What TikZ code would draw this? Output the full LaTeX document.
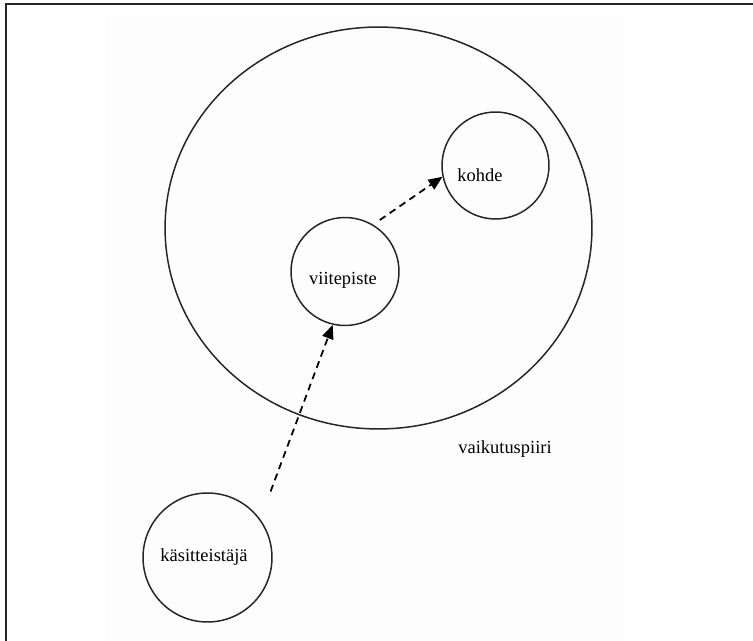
\documentclass[tikz,border=0pt]{standalone}
\usepackage{fontspec}
\setmainfont{Liberation Serif}
\usepackage{tikz}
\usetikzlibrary{arrows.meta,shapes,calc}
\tikzstyle{cnode}=[circle, draw=black!85, line width=0.85pt, inner sep=0pt]
\tikzstyle{area}=[ellipse, draw=black!85, line width=0.85pt, inner sep=0pt,
minimum width=8.54cm, minimum height=8.04cm]
\tikzstyle{dref}=[-{Triangle[length=2.8mm,width=2.3mm]}, line width=1pt,
dash pattern=on 1.4mm off 1mm]
\tikzstyle{frame}=[line width=0.045cm, draw=black!85]

\begin{document}
\begin{tikzpicture}[x=0.02cm, y=-0.02cm, font=\fontsize{10.5}{12}\selectfont]
\useasboundingbox (0,0) rectangle (753,641);
\fill[black!0.8] (106,16) rectangle (625,641);
\draw[frame] (5,4) -- (753,4);
\draw[frame] (6,3) -- (6,641);
\node[area] (piiri) at (378.5,228) {};
\node[cnode, minimum size=2.14cm,
label={[xshift=-0.31cm, yshift=-0.19cm]center:kohde}] (k) at (495.5,165.5) {};
\node[cnode, minimum size=2.16cm,
label={[xshift=-0.04cm, yshift=-0.17cm]center:viitepiste}] (v) at (345,271.5) {};
\node[cnode, minimum size=2.58cm,
label={[xshift=-0.07cm]center:käsitteistäjä}] (kas) at (207.5,557.5) {};
\node (lbl) at (505,449) {vaikutuspiiri};
\draw[dref, shorten <=0.16cm] (v.59) -- (k.192);
\draw[dref, shorten <=0.59cm] (kas.36) -- (v.257);
\end{tikzpicture}
\end{document}
